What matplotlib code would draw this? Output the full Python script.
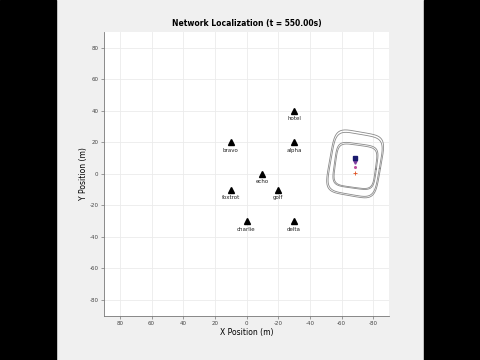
import numpy as np
import matplotlib
matplotlib.use("Agg")
import matplotlib.pyplot as plt
from matplotlib.patches import Rectangle

plt.rcParams["axes.unicode_minus"] = False

# Landmarks
names = ["hotel", "alpha", "bravo", "echo", "foxtrot", "golf", "charlie", "delta"]
lm_x = [-30, -30, 10, -10, 10, -20, 0, -30]
lm_y = [40, 20, 20, 0, -10, -10, -30, -30]

# Agent markers
est_xy = (-68.5, 10.0)
tri_xy = (-68.5, 7.5)
dot_xy = (-68.5, 4.5)
true_xy = (-68.5, 0.5)

# Uncertainty contours: center x, center y, half width, half height, tilt (deg, clockwise on screen)
cont_cx = [-68.6, -68.6, -68.8, -68.8]
cont_cy = [6.3, 6.0, 5.0, 4.8]
cont_hw = [16.3, 15.5, 13.4, 12.7]
cont_hh = [20.5, 19.3, 14.2, 13.4]
cont_rot = [10, 10, 8, 8]

ticks = [80, 60, 40, 20, 0, -20, -40, -60, -80]

fig = plt.figure(figsize=(4.8, 3.6), dpi=100, facecolor="#f0f0f0")
fig.patches.append(Rectangle((0, 0), 56/480, 1, transform=fig.transFigure, color="black", zorder=-1))
fig.patches.append(Rectangle((424/480, 0), 56/480, 1, transform=fig.transFigure, color="black", zorder=-1))

ax = fig.add_axes([104/480, 1-315.6/360, 285/480, 283.6/360])
ax.set_facecolor("white")
ax.set_xlim(90, -90)
ax.set_ylim(-90, 90)
ax.set_xticks(ticks)
ax.set_yticks(ticks)
ax.tick_params(labelsize=4, length=2, width=0.5, color="#777777", labelcolor="#444444", pad=2)
ax.grid(True, color="#ebebeb", linewidth=0.6)
ax.set_axisbelow(True)
for s in ["top", "right"]:
    ax.spines[s].set_visible(False)
for s in ["left", "bottom"]:
    ax.spines[s].set_color("#777777")
    ax.spines[s].set_linewidth(0.6)

# contours (superellipses)
t = np.linspace(0, 2*np.pi, 400)
n = 5.0
for cx, cy, hw, hh, rot in zip(cont_cx, cont_cy, cont_hw, cont_hh, cont_rot):
    c, s = np.cos(t), np.sin(t)
    u = hw * np.sign(c) * np.abs(c) ** (2/n)
    v = hh * np.sign(s) * np.abs(s) ** (2/n)
    th = np.deg2rad(rot)
    up = u*np.cos(th) + v*np.sin(th)
    vp = -u*np.sin(th) + v*np.cos(th)
    ax.plot(cx - up, cy + vp, color="#8a8a8a", linewidth=0.6)

ax.plot(lm_x, lm_y, linestyle="none", marker="^", color="black", markersize=4)
for nm, x, y in zip(names, lm_x, lm_y):
    ax.text(x, y - 3.5, nm, fontsize=4, ha="center", va="top", color="#222222")

ax.plot([true_xy[0]], [true_xy[1]], marker="+", color="#e05020", markersize=3, mew=0.6)
ax.plot([dot_xy[0]], [dot_xy[1]], marker="o", color="#c050a0", markersize=1.2)
ax.plot([tri_xy[0]], [tri_xy[1]], marker="v", color="#8040a0", markersize=2.5)
ax.plot([est_xy[0]], [est_xy[1]], marker="s", color="#1a1a6e", markersize=3.2)

ax.set_title("Network Localization (t = 550.00s)", fontsize=5.5, fontweight="bold", pad=4)
ax.set_xlabel("X Position (m)", fontsize=5.5, labelpad=1)
ax.set_ylabel("Y Position (m)", fontsize=5.5, labelpad=1)

fig.savefig("out.png", dpi=100, facecolor=fig.get_facecolor())
